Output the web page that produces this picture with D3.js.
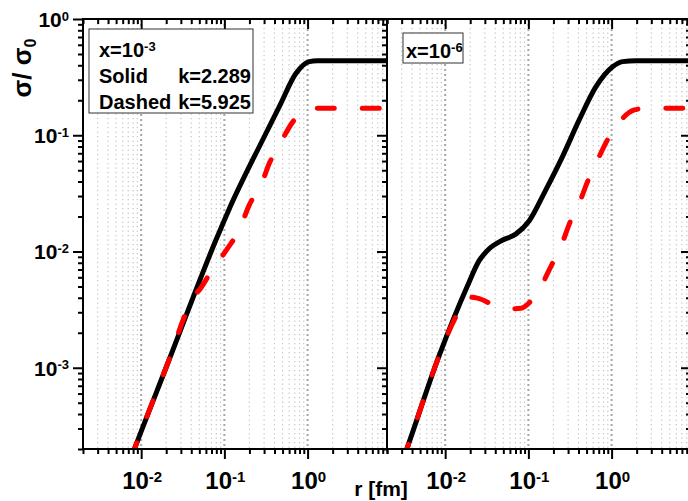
<!DOCTYPE html>
<html>
<head>
<meta charset="utf-8">
<script src="https://cdn.jsdelivr.net/npm/d3@7"></script>
<style>
  body { margin: 0; background: #fff; }
  svg { display: block; font-family: "Liberation Sans", Arial, sans-serif; font-weight: bold; }
</style>
</head>
<body>
<svg id="chart" width="688" height="501"></svg>
<script>
// values (r in fm, sigma/sigma0)
const xDomain = [0.002, 9];
const yDomain = [2e-4, 1];
const xTickExps = ["-2", "-1", "0"];
const yTickExps = ["-3", "-2", "-1", "0"];

// x = 1e-3 panel
const rLeftSolid = [0.0075, 0.0083, 0.0199, 0.0794, 0.113, 0.288, 0.457, 0.726, 1.05, 1.3, 9];
const sLeftSolid = [1.65e-4, 2.0e-4, 1.0e-3, 0.0126, 0.0228, 0.091, 0.176, 0.341, 0.43, 0.437, 0.438];
const rLeftDashed = [0.0075, 0.0083, 0.0199, 0.045, 0.0501, 0.0692, 0.1096, 0.151, 0.1995, 0.276, 0.347, 0.48, 0.692, 0.912, 1.2, 1.6, 9];
const sLeftDashed = [1.65e-4, 2.0e-4, 1.0e-3, 0.0043, 0.00468, 0.00672, 0.01067, 0.01534, 0.0252, 0.0374, 0.0574, 0.088, 0.1355, 0.160, 0.1707, 0.171, 0.171];

// x = 1e-6 panel
const rRightSolid = [0.0031, 0.00346, 0.0084, 0.0184, 0.0255, 0.0336, 0.0486, 0.0705, 0.102, 0.162, 0.257, 0.408, 0.649, 1.028, 1.358, 1.97, 9];
const sRightSolid = [1.6e-4, 2.0e-4, 0.00125, 0.0050, 0.0083, 0.0105, 0.0125, 0.0141, 0.0183, 0.0339, 0.0655, 0.1355, 0.262, 0.389, 0.430, 0.438, 0.438];
const rRightDashed = [0.0031, 0.00346, 0.0084, 0.01057, 0.01396, 0.0163, 0.0194, 0.0243, 0.0423, 0.0585, 0.081, 0.1047, 0.1346, 0.186, 0.2456, 0.318, 0.408, 0.514, 0.678, 0.938, 1.358, 1.876, 2.6, 9];
const sRightDashed = [1.6e-4, 2.0e-4, 0.00125, 0.00190, 0.00290, 0.0036, 0.00404, 0.00397, 0.00336, 0.00321, 0.00325, 0.00369, 0.00468, 0.00741, 0.0110, 0.0180, 0.0260, 0.0399, 0.0613, 0.0973, 0.140, 0.165, 0.1707, 0.171];

const plotTop = 19, plotBottom = 449;
const svg = d3.select("#chart");

const y = d3.scaleLog().domain(yDomain).range([plotBottom, plotTop]);
const isDecade = v => Math.abs(Math.log10(v) - Math.round(Math.log10(v))) < 1e-6;

const panels = [
  { id: "p1", x0: 83, x1: 387, solid: [rLeftSolid, sLeftSolid], dashed: [rLeftDashed, sLeftDashed] },
  { id: "p2", x0: 387, x1: 691, solid: [rRightSolid, sRightSolid], dashed: [rRightDashed, sRightDashed] }
];

const defs = svg.append("defs");

function styleAxis(g) {
  g.select(".domain").remove();
  g.selectAll(".tick line").attr("stroke", "#000").attr("stroke-width", 2);
}

panels.forEach((p, i) => {
  const x = d3.scaleLog().domain(xDomain).range([p.x0, p.x1]);
  const allX = x.ticks();
  const majorX = allX.filter(isDecade);
  const minorX = allX.filter(v => !isDecade(v));

  defs.append("clipPath").attr("id", "clip-" + p.id)
    .append("rect")
    .attr("x", p.x0).attr("y", plotTop)
    .attr("width", p.x1 - p.x0).attr("height", plotBottom - plotTop);

  // vertical dotted grid
  svg.append("g").selectAll("line")
    .data(allX)
    .join("line")
    .attr("x1", d => x(d)).attr("x2", d => x(d))
    .attr("y1", plotTop).attr("y2", plotBottom)
    .attr("stroke", d => isDecade(d) ? "#a6a6a6" : "#c4c4c4")
    .attr("stroke-width", d => isDecade(d) ? 2 : 1.2)
    .attr("stroke-dasharray", d => isDecade(d) ? "2,3" : "1.2,3.3");

  // bottom (outward) and top (inward) ticks
  [[majorX, 10], [minorX, 5]].forEach(([vals, len]) => {
    svg.append("g").attr("transform", `translate(0,${plotBottom})`)
      .call(d3.axisBottom(x).tickValues(vals).tickSize(len).tickFormat("")).call(styleAxis);
    svg.append("g").attr("transform", `translate(0,${plotTop})`)
      .call(d3.axisTop(x).tickValues(vals).tickSize(-len).tickFormat("")).call(styleAxis);
  });

  // tick labels 10^n
  const lab = svg.append("g").selectAll("text")
    .data(majorX)
    .join("text")
    .attr("x", d => x(d) + 1)
    .attr("y", 489)
    .attr("text-anchor", "middle")
    .attr("font-size", 24);
  lab.append("tspan").text("10");
  lab.append("tspan").attr("dy", "-0.5em").attr("font-size", 15).text((d, j) => xTickExps[j]);

  // curves
  const line = d3.line()
    .x(d => x(d[0]))
    .y(d => y(d[1]))
    .curve(d3.curveMonotoneX);
  const cg = svg.append("g").attr("clip-path", `url(#clip-${p.id})`);
  cg.append("path")
    .datum(d3.zip(p.solid[0], p.solid[1]))
    .attr("d", line)
    .attr("fill", "none")
    .attr("stroke", "#000")
    .attr("stroke-width", 5);
  cg.append("path")
    .datum(d3.zip(p.dashed[0], p.dashed[1]))
    .attr("d", line)
    .attr("fill", "none")
    .attr("stroke", "#ff0000")
    .attr("stroke-width", 5)
    .attr("stroke-linecap", "round")
    .attr("stroke-dasharray", "17,28");
});

// y ticks
const allY = y.ticks();
const majorY = allY.filter(isDecade);
const minorY = allY.filter(v => !isDecade(v));
[[majorY, 10], [minorY, 5]].forEach(([vals, len]) => {
  svg.append("g").attr("transform", `translate(${panels[0].x0},0)`)
    .call(d3.axisLeft(y).tickValues(vals).tickSize(len).tickFormat("")).call(styleAxis);
  svg.append("g").attr("transform", `translate(${panels[0].x1},0)`)
    .call(d3.axisRight(y).tickValues(vals).tickSize(-len).tickFormat("")).call(styleAxis);
  svg.append("g").attr("transform", `translate(${panels[1].x1},0)`)
    .call(d3.axisRight(y).tickValues(vals).tickSize(-len).tickFormat("")).call(styleAxis);
});

const ylab = svg.append("g").selectAll("text")
  .data(majorY)
  .join("text")
  .attr("x", 69)
  .attr("y", d => y(d) + 8)
  .attr("text-anchor", "end")
  .attr("font-size", 21);
ylab.append("tspan").text("10");
ylab.append("tspan").attr("dy", "-0.5em").attr("font-size", 13).text((d, j) => yTickExps[j]);

// frames
panels.forEach(p => {
  svg.append("rect")
    .attr("x", p.x0).attr("y", plotTop)
    .attr("width", p.x1 - p.x0).attr("height", plotBottom - plotTop)
    .attr("fill", "none").attr("stroke", "#000").attr("stroke-width", 2);
});

// axis titles
const yt = svg.append("text")
  .attr("transform", "translate(31,68) rotate(-90)")
  .attr("text-anchor", "middle")
  .attr("font-size", 26);
yt.append("tspan").text("\u03c3/ \u03c3");
yt.append("tspan").attr("dy", "0.3em").attr("font-size", 16).text("0");

svg.append("text")
  .attr("x", 381).attr("y", 496)
  .attr("text-anchor", "middle")
  .attr("font-size", 21)
  .text("r [fm]");

// legend boxes
svg.append("rect").attr("x", 89).attr("y", 29).attr("width", 164).attr("height", 84)
  .attr("fill", "#fff").attr("stroke", "#333").attr("stroke-width", 1);
const l1 = svg.append("text").attr("x", 99).attr("y", 57).attr("font-size", 20);
l1.append("tspan").text("x=10");
l1.append("tspan").attr("dy", "-0.5em").attr("font-size", 13).text("-3");
svg.append("text").attr("x", 99).attr("y", 83).attr("font-size", 20).text("Solid");
svg.append("text").attr("x", 251).attr("y", 83).attr("font-size", 20).attr("text-anchor", "end").text("k=2.289");
svg.append("text").attr("x", 99).attr("y", 109).attr("font-size", 20).text("Dashed");
svg.append("text").attr("x", 251).attr("y", 109).attr("font-size", 20).attr("text-anchor", "end").text("k=5.925");

svg.append("rect").attr("x", 403).attr("y", 33).attr("width", 60).attr("height", 30)
  .attr("fill", "#fff").attr("stroke", "#333").attr("stroke-width", 1);
const l2 = svg.append("text").attr("x", 406).attr("y", 58).attr("font-size", 20);
l2.append("tspan").text("x=10");
l2.append("tspan").attr("dy", "-0.5em").attr("font-size", 13).text("-6");
</script>
</body>
</html>
